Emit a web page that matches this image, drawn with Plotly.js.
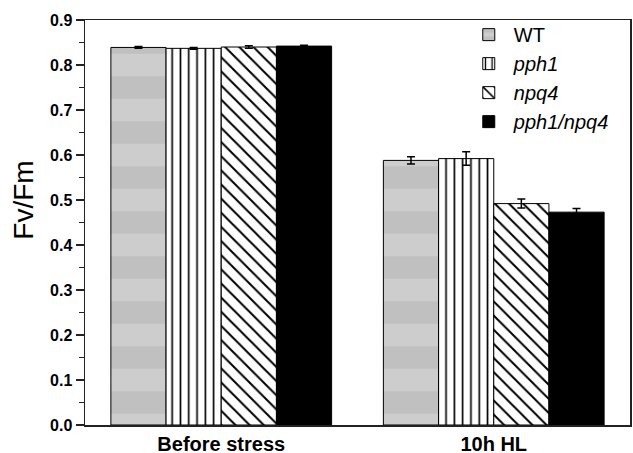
<!DOCTYPE html>
<html>
<head>
<meta charset="utf-8">
<script src="https://cdn.plot.ly/plotly-3.0.1.min.js"></script>
<style>html,body{margin:0;padding:0;background:#fff;}#chart{width:633px;height:453px;}</style>
</head>
<body>
<div id="chart"></div>
<script>
const categories = ["Before stress", "10h HL"];
const seriesNames = ["WT", "<i>pph1</i>", "<i>npq4</i>", "<i>pph1/npq4</i>"];
const wtValues = [0.839, 0.588];
const wtErrors = [0.002, 0.008];
const pph1Values = [0.837, 0.592];
const pph1Errors = [0.002, 0.015];
const npq4Values = [0.840, 0.492];
const npq4Errors = [0.003, 0.010];
const doubleValues = [0.842, 0.473];
const doubleErrors = [0.002, 0.008];
const yTickVals = [0, 0.1, 0.2, 0.3, 0.4, 0.5, 0.6, 0.7, 0.8, 0.9];
const yTickText = ["0.0", "0.1", "0.2", "0.3", "0.4", "0.5", "0.6", "0.7", "0.8", "0.9"];
const yTitle = "Fv/Fm";

const values = [wtValues, pph1Values, npq4Values, doubleValues];
const errors = [wtErrors, pph1Errors, npq4Errors, doubleErrors];
const styles = [
  {color: "#c6c6c6", pattern: {shape: "-", bgcolor: "#cdcdcd", fgcolor: "#c0c0c0", size: 45, solidity: 0.5, fillmode: "replace"}},
  {color: "#ffffff", pattern: {shape: "|", bgcolor: "#ffffff", fgcolor: "#000000", size: 8.3, solidity: 0.2, fillmode: "replace"}},
  {color: "#ffffff", pattern: {shape: "\\", bgcolor: "#ffffff", fgcolor: "#000000", size: 10, solidity: 0.2, fillmode: "replace"}},
  {color: "#000000", pattern: {shape: ""}}
];

const traces = seriesNames.map((name, i) => ({
  type: "bar",
  name: name,
  x: categories,
  y: values[i],
  error_y: {type: "data", array: errors[i], visible: true, color: "#000", thickness: 1.5, width: 4},
  marker: {color: styles[i].color, pattern: styles[i].pattern, line: {color: "#000", width: 1}}
}));

const font = "Liberation Sans, Arial, sans-serif";
const layout = {
  width: 633, height: 453,
  margin: {l: 85, r: 3, t: 20, b: 28},
  paper_bgcolor: "#fff", plot_bgcolor: "#fff",
  barmode: "group", bargap: 0.19, bargroupgap: 0,
  showlegend: true,
  legend: {
    x: 0.695, y: 1.012, xanchor: "left", yanchor: "top",
    bgcolor: "rgba(0,0,0,0)", borderwidth: 0,
    font: {family: font, size: 20, color: "#000"},
    itemwidth: 40, tracegroupgap: 0
  },
  xaxis: {
    type: "category", range: [-0.5, 1.5],
    showline: true, linecolor: "#222", linewidth: 1.5, mirror: true,
    ticks: "", showgrid: false, zeroline: false, ticklabelstandoff: 0,
    tickfont: {family: font, size: 20, color: "#000", weight: "bold"}
  },
  yaxis: {
    range: [0, 0.9], tickvals: yTickVals, ticktext: yTickText,
    showline: true, linecolor: "#222", linewidth: 1.5, mirror: true,
    ticks: "outside", ticklen: 8, tickwidth: 1.5, tickcolor: "#222",
    minor: {dtick: 0.05, ticks: "outside", ticklen: 5, tickwidth: 1.5, tickcolor: "#222"},
    showgrid: false, zeroline: false,
    tickfont: {family: font, size: 16, color: "#000", weight: "bold"}
  },
  annotations: [{
    text: yTitle, xref: "paper", yref: "paper", x: -0.113, y: 0.555,
    xanchor: "center", yanchor: "middle", textangle: -90, showarrow: false,
    font: {family: font, size: 28, color: "#000"}
  }]
};

Plotly.newPlot("chart", traces, layout, {displayModeBar: false, staticPlot: true});
</script>
</body>
</html>
